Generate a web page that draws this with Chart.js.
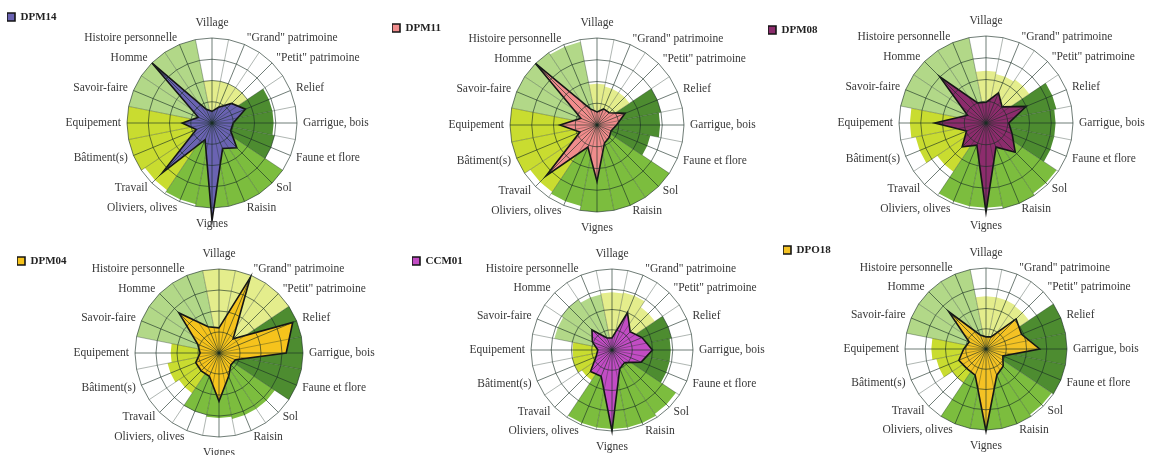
<!DOCTYPE html>
<html>
<head>
<meta charset="utf-8">
<script src="https://cdn.jsdelivr.net/npm/chart.js@4.4.1/dist/chart.umd.min.js"></script>
<style>
  body { margin: 0; background: #fff; width: 1149px; height: 455px; overflow: hidden; position: relative; }
  canvas { position: absolute; }
</style>
</head>
<body>
<script>
// 16 themes, clockwise from the top
var categories = ['Village', '"Grand" patrimoine', '"Petit" patrimoine', 'Relief', 'Garrigue, bois',
  'Faune et flore', 'Sol', 'Raisin', 'Vignes', 'Oliviers, olives', 'Travail', 'Bâtiment(s)',
  'Equipement', 'Savoir-faire', 'Homme', 'Histoire personnelle'];
var themeGroup = [0, 0, 0, 1, 1, 1, 2, 2, 2, 2, 3, 3, 3, 4, 4, 4];

var names = ['DPM14', 'DPM11', 'DPM08', 'DPM04', 'CCM01', 'DPO18'];

// interviewee scores (0-4)
var dpm14 = [0.55, 0.8, 1.3, 1.7, 1.0, 0.95, 1.65, 1.3, 4.6, 0.85, 3.3, 0.8, 1.4, 0.7, 4.0, 0.7];
var dpm11 = [0.6, 0.8, 0.8, 1.4, 0.9, 0.7, 0.8, 0.9, 2.6, 1.1, 3.3, 0.85, 1.7, 0.8, 4.0, 0.8];
var dpm08 = [0.95, 1.5, 1.05, 2.0, 1.05, 1.3, 1.9, 1.2, 4.1, 1.1, 1.55, 0.97, 2.35, 0.92, 3.0, 1.0];
var dpm04 = [1.2, 3.9, 0.95, 3.8, 3.2, 0.85, 0.8, 1.2, 2.3, 1.2, 1.2, 1.2, 0.9, 1.1, 2.7, 1.35];
var ccm01 = [0.6, 2.0, 1.27, 1.6, 2.0, 1.56, 0.88, 1.0, 4.0, 1.4, 1.5, 0.85, 0.7, 1.05, 1.4, 0.64];
var dpo18 = [0.6, 0.65, 2.1, 1.9, 2.65, 0.9, 1.2, 1.4, 4.05, 1.4, 1.35, 1.45, 1.1, 0.9, 2.6, 0.75];

// background sectors (0-4)
var dpm14Zone = [2, 2, 2, 2.9, 2.9, 3.0, 4, 4, 4, 3.9, 3.8, 4, 4, 4, 4, 4];
var dpm11Zone = [1.9, 1.8, 1.8, 3.0, 2.9, 2.5, 4, 4, 4, 3.8, 3.7, 4, 4, 4, 4, 3.9];
var dpm08Zone = [2.4, 2.3, 2.4, 3.3, 3.2, 3.2, 3.9, 4, 3.9, 3.9, 2.7, 3.3, 3.5, 4, 4, 4];
var dpm04Zone = [4, 4, 4, 4, 4, 4, 3.2, 3.2, 3.1, 3.0, 2.3, 2.5, 2.3, 4, 4, 4];
var ccm01Zone = [2.85, 2.9, 2.55, 3.0, 2.9, 2.9, 3.8, 3.9, 3.9, 3.9, 1.8, 2.0, 1.95, 2.9, 3.0, 2.8];
var dpo18Zone = [2.6, 2.6, 2.55, 4, 4, 4, 3.9, 4, 4, 4, 2.0, 2.5, 2.7, 4, 4, 4];

var series = [dpm14, dpm11, dpm08, dpm04, ccm01, dpo18];
var zones = [dpm14Zone, dpm11Zone, dpm08Zone, dpm04Zone, ccm01Zone, dpo18Zone];

// styles and placement
var seriesColors = ['#6a63b2', '#f08c8c', '#8c2c6c', '#f6c31c', '#c24cc4', '#f4c224'];
var groupColors = ['#e4ed8c', '#4d8c30', '#7cbd3e', '#c9dc30', '#b2d888'];
var gridColor = 'rgba(25,45,35,0.62)';
var minorSpoke = 'rgba(25,45,35,0.35)';
var centers = [[212, 123], [597, 125], [986, 123], [219, 353], [612, 350], [986, 349]];
var radii = [85, 87, 87, 84, 81, 81];
var legendAt = [[7, 17], [392, 28], [768, 30], [17, 261], [412, 261], [783, 250]];
var halfW = 185, sidePad = 6, endPad = 15, extraBottom = 8;

Chart.defaults.font.family = 'Liberation Serif';

// each theme gets a spoke, with an unlabeled spoke between themes
var axisLabels = [];
categories.forEach(function(c) { axisLabels.push(c); axisLabels.push(''); });

function onAxes(values) {
  var out = [];
  values.forEach(function(v) { out.push(v); out.push(null); });
  return out;
}

function sector(k, v) {
  var out = [];
  for (var j = 0; j < axisLabels.length; j++) out.push(0);
  out[(2 * k + axisLabels.length - 1) % axisLabels.length] = v;
  out[2 * k] = v;
  out[2 * k + 1] = v;
  return out;
}

var legendSpot = {
  id: 'legendSpot',
  beforeDraw: function(chart, args, opts) {
    var lg = chart.legend;
    if (!lg) return;
    var w = lg.width, h = lg.height;
    lg.left = opts.x; lg.top = opts.y;
    lg.right = opts.x + w; lg.bottom = opts.y + h;
  }
};

function makeRadar(i) {
  var cx = centers[i][0], cy = centers[i][1];
  var H = 2 * (radii[i] + endPad + 1);
  var areaLeft = cx - halfW, areaTop = cy - H / 2;
  var x0 = Math.min(areaLeft, legendAt[i][0] - 5);
  var y0 = Math.min(areaTop - 8, legendAt[i][1] - 10);
  var padLeft = areaLeft - x0, padTop = areaTop - y0;

  var cv = document.createElement('canvas');
  cv.width = padLeft + 2 * halfW;
  cv.height = padTop + H + extraBottom;
  cv.style.left = x0 + 'px';
  cv.style.top = y0 + 'px';
  document.body.appendChild(cv);

  var datasets = [{
    label: names[i],
    data: onAxes(series[i]),
    spanGaps: true,
    fill: true,
    backgroundColor: seriesColors[i],
    borderColor: '#151515',
    borderWidth: 1.6,
    pointRadius: 0,
    tension: 0
  }];
  zones[i].forEach(function(v, k) {
    datasets.push({
      label: categories[k],
      data: sector(k, v),
      fill: true,
      backgroundColor: groupColors[themeGroup[k]],
      borderWidth: 0,
      pointRadius: 0
    });
  });

  new Chart(cv, {
    type: 'radar',
    data: { labels: axisLabels, datasets: datasets },
    plugins: [legendSpot],
    options: {
      responsive: false,
      animation: false,
      events: [],
      layout: { padding: { left: padLeft, top: padTop, right: 0, bottom: extraBottom } },
      scales: {
        r: {
          min: 0,
          max: 4,
          ticks: { display: false, stepSize: 1 },
          grid: { color: gridColor, lineWidth: 1, z: 1 },
          angleLines: {
            color: function(ctx) { return ctx.index % 2 ? minorSpoke : gridColor; },
            lineWidth: 1
          },
          pointLabels: {
            padding: function(ctx) { return ctx.index % 16 === 0 ? endPad : sidePad; },
            color: '#383838',
            font: { family: 'Liberation Serif', size: 11.5, lineHeight: '1px' }
          }
        }
      },
      plugins: {
        tooltip: { enabled: false },
        legendSpot: { x: legendAt[i][0] - x0, y: legendAt[i][1] - 5.5 - y0 },
        legend: {
          position: 'chartArea',
          align: 'start',
          labels: {
            filter: function(item) { return item.datasetIndex === 0; },
            boxWidth: 8,
            boxHeight: 8,
            padding: 0,
            color: '#222',
            font: { family: 'Liberation Serif', size: 11, weight: 'bold' }
          }
        }
      }
    }
  });
}

for (var n = 0; n < names.length; n++) makeRadar(n);
</script>
</body>
</html>
